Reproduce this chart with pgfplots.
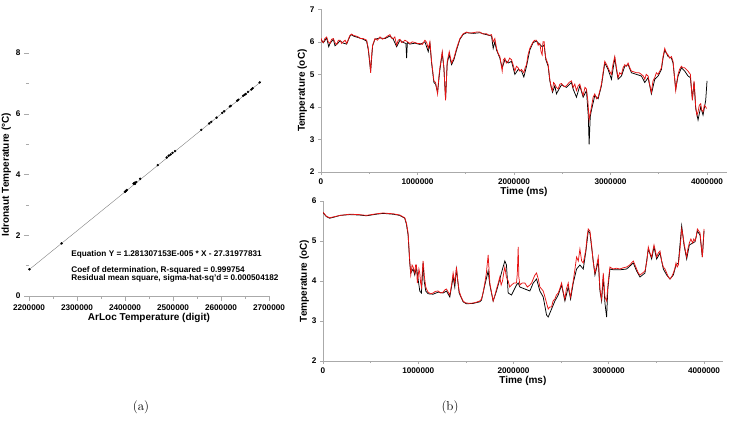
\documentclass[border=0pt]{standalone}
\usepackage{pgfplots}
\pgfplotsset{compat=1.18}
\usepackage{fontspec}
\setmainfont{Liberation Sans}
\newfontfamily\lmfont{Latin Modern Roman}
\definecolor{axgray}{RGB}{170,170,170}
\definecolor{myred}{RGB}{230,20,20}
\pgfplotsset{
  common/.style={
    scale only axis,
    axis x line*=bottom, axis y line*=left,
    axis line style={axgray, line width=0.8pt},
    tick style={axgray, line width=0.6pt},
    tick align=outside,
    major tick length=3pt, minor tick length=2pt,
    tick label style={font=\fontsize{8.2}{9}\selectfont\bfseries, text=black},
    label style={font=\fontsize{10}{11}\selectfont\bfseries},
    scaled ticks=false,
  }
}
\begin{document}
\begin{tikzpicture}
\path[use as bounding box] (0pt,0pt) rectangle (731pt,423pt);
% ---------------- (a) ----------------
\begin{axis}[common,
  at={(29pt,127pt)}, anchor=south west,
  width=240pt, height=243pt,
  xmin=2200000, xmax=2700000, ymin=0, ymax=8,
  xtick={2200000,2300000,2400000,2500000,2600000,2700000},
  xticklabels={2200000,2300000,2400000,2500000,2600000,2700000},
  minor xtick={2250000,2350000,2450000,2550000,2650000},
  ytick={0,2,4,6,8}, yticklabels={0,2,4,6,8},
  minor ytick={1,3,5,7},
  major tick length=5pt, minor tick length=3pt,
  tick style={axgray, line width=0.5pt},
  y axis line style={draw=none},
  xlabel={ArLoc Temperature (digit)},
  ylabel={Idronaut Temperature (°C)},
  xlabel style={yshift=4pt},
  ylabel style={yshift=-2pt},
  clip=false,
]
\addplot[gray, line width=0.4pt] coordinates {(2200500,0.87) (2683500,7.06)};
\addplot[only marks, mark=*, mark size=1pt, black] coordinates {
(2201000,0.88) (2267800,1.73) (2399900,3.43) (2401500,3.45) (2402600,3.47)
(2404000,3.49) (2417900,3.70) (2419500,3.72) (2421000,3.73) (2423400,3.75)
(2420500,3.69) (2431700,3.86) (2468300,4.31) (2487000,4.56) (2491000,4.62)
(2495000,4.66) (2499000,4.71) (2504300,4.77) (2558900,5.47) (2575500,5.68)
(2579700,5.73) (2590700,5.87) (2602500,6.03) (2606600,6.08) (2618400,6.24)
(2620500,6.26) (2633600,6.43) (2636000,6.46) (2646100,6.59) (2649000,6.62)
(2651500,6.65) (2656400,6.72) (2663400,6.80) (2666000,6.84) (2680600,7.03)
};
\node[anchor=west, font=\fontsize{8.2}{9}\selectfont\bfseries] at (axis cs:2281000,1.38) {Equation Y = 1.281307153E-005 * X - 27.31977831};
\node[anchor=west, font=\fontsize{8.2}{9}\selectfont\bfseries] at (axis cs:2281000,0.84) {Coef of determination, R-squared = 0.999754};
\node[anchor=west, font=\fontsize{8.2}{9}\selectfont\bfseries] at (axis cs:2281000,0.58) {Residual mean square, sigma-hat-sq'd = 0.000504182};
\end{axis}
% ---------------- (b) top ----------------
\begin{axis}[common,
  at={(321pt,251pt)}, anchor=south west,
  width=406pt, height=162.7pt,
  xmin=0, xmax=4207000, ymin=2, ymax=7,
  xtick={0,1000000,2000000,3000000,4000000},
  xticklabels={0,1000000,2000000,3000000,4000000},
  minor xtick={500000,1500000,2500000,3500000},
  ytick={2,3,4,5,6,7}, yticklabels={2,3,4,5,6,7},
  xlabel={Time (ms)}, ylabel={Temperature (oC)},
  xlabel style={yshift=4pt},
  ylabel style={yshift=-4pt},
]
\addplot[black, line width=0.75pt] coordinates {
(0,6.08) (24000,5.97) (58700,6.12) (80000,5.85) (93200,5.95) (127700,6.08) (145000,5.88) (162200,5.92)
(196700,6.03) (231200,5.96) (265700,5.93) (300300,6.18) (317500,6.22) (334800,6.18)
(386500,6.13) (438300,6.08) (472800,6.02) (490100,5.75) (514200,5.1) (535000,5.88)
(559100,6.08) (610900,6.12) (662600,6.1) (714400,6.18) (748900,6.08) (783400,5.85)
(818000,6.05) (852500,5.98) (880000,5.95) (887000,5.5) (895000,5.98) (921500,5.93) (973300,5.96)
(1025000,5.92) (1076800,6.0) (1111300,5.7) (1128600,5.95) (1145800,5.35) (1170000,4.75)
(1187200,4.7) (1208000,4.45) (1232100,5.15) (1256300,5.65) (1273500,5.2) (1290800,4.25)
(1308000,5.35) (1328800,5.6) (1352900,5.3) (1377100,5.45) (1404700,5.75) (1439200,6.08)
(1473700,6.23) (1508200,6.28) (1577200,6.26) (1646300,6.28) (1715300,6.22) (1767000,6.18)
(1784300,5.8) (1801600,6.0) (1818800,5.75) (1853300,5.5) (1877500,5.2) (1905100,5.45)
(1939600,5.35) (1974200,5.4) (2008700,5.0) (2043200,5.15) (2077700,5.1) (2101800,4.92)
(2129500,5.25) (2164000,5.75) (2198500,5.98) (2233000,6.02) (2267500,5.92) (2291700,5.85)
(2312400,5.9) (2329600,5.45) (2353800,5.25) (2371000,4.8) (2398700,4.45) (2422800,4.65)
(2440000,4.4) (2457300,4.5) (2491900,4.68) (2543600,4.6) (2595400,4.75) (2612600,4.55)
(2647200,4.3) (2681700,4.65) (2716200,4.3) (2750700,4.5) (2770000,3.7) (2778300,2.85)
(2790000,3.7) (2802400,3.9) (2837000,4.35) (2871500,4.25) (2906000,4.65) (2940500,5.35)
(2975000,5.15) (3009500,4.85) (3044000,5.5) (3061300,5.15) (3078600,4.85) (3113100,4.95)
(3147600,5.25) (3182100,5.3) (3216600,5.05) (3268400,5.0) (3320100,4.95) (3354700,4.75)
(3389200,4.9) (3423700,4.4) (3458200,4.85) (3492700,4.95) (3527200,5.15) (3544500,5.5)
(3561700,5.75) (3596300,5.55) (3630800,5.5) (3648000,5.35) (3675700,4.55) (3699800,4.95)
(3734300,5.2) (3768800,5.1) (3803300,4.95) (3827500,4.9) (3848200,4.25) (3865500,4.75)
(3882700,3.95) (3906900,3.6) (3934500,4.0) (3958700,3.75) (3986300,4.2) (4000000,4.8)
};
\addplot[myred, line width=0.75pt] coordinates {
(0,6.11) (12000,6.0) (24000,5.98) (40000,6.1) (58700,6.15) (75000,6.0) (93200,5.95) (110000,6.08) (127700,6.1)
(145000,5.98) (162200,5.92) (180000,6.05) (196700,6.05) (215000,5.95) (231200,6.0) (250000,6.05) (265700,5.95) (300300,6.2)
(317500,6.24) (334800,6.2) (360000,6.18) (386500,6.15) (410000,6.1) (438300,6.1) (472800,6.05)
(490100,5.8) (505000,5.4) (514200,5.05) (525000,5.6) (535000,5.9) (559100,6.1) (585000,6.05) (610900,6.15)
(635000,6.08) (662600,6.12) (690000,6.18) (714400,6.22) (730000,6.12) (748900,6.1) (765000,6.15) (783400,5.9)
(800000,6.05) (818000,6.08) (835000,5.98) (852500,6.0) (870000,6.05) (887000,6.02) (921500,5.95) (945000,6.0)
(973300,5.98) (1000000,5.95) (1025000,5.95) (1050000,5.92) (1076800,6.05) (1095000,5.98) (1111300,5.8)
(1128600,6.0) (1145800,5.4) (1170000,4.8) (1187200,4.75) (1208000,4.4) (1220000,4.9)
(1232100,5.2) (1256300,5.7) (1273500,5.2) (1290800,4.2) (1308000,5.4) (1328800,5.7)
(1352900,5.35) (1377100,5.5) (1404700,5.8) (1439200,6.1) (1473700,6.25) (1508200,6.3)
(1540000,6.27) (1577200,6.28) (1610000,6.3) (1646300,6.3) (1680000,6.24) (1715300,6.25) (1740000,6.2) (1767000,6.22)
(1784300,6.0) (1801600,6.1) (1818800,5.8) (1835000,5.65) (1853300,5.55) (1877500,5.1) (1890000,5.45) (1905100,5.5)
(1920000,5.35) (1939600,5.4) (1955000,5.5) (1974200,5.45) (1990000,5.3) (2008700,5.1) (2025000,5.25) (2043200,5.2)
(2060000,5.1) (2077700,5.15) (2101800,5.05) (2115000,5.2) (2129500,5.3) (2145000,5.6) (2164000,5.8)
(2180000,5.9) (2198500,6.0) (2215000,6.05) (2233000,6.05) (2250000,5.9) (2267500,5.95) (2280000,5.7) (2291700,5.6)
(2300000,6.0) (2312400,6.0) (2320000,5.7) (2329600,5.5) (2353800,5.3) (2371000,4.85) (2385000,4.6) (2398700,4.5)
(2410000,4.75) (2422800,4.7) (2440000,4.6) (2457300,4.55) (2475000,4.7) (2491900,4.72) (2520000,4.62) (2543600,4.65)
(2570000,4.75) (2595400,4.8) (2612600,4.6) (2630000,4.7) (2647200,4.5) (2665000,4.65) (2681700,4.7) (2700000,4.5) (2716200,4.35)
(2735000,4.6) (2750700,4.55) (2765000,4.2) (2778300,3.6) (2790000,3.8) (2802400,4.0) (2820000,4.3) (2837000,4.4)
(2855000,4.25) (2871500,4.3) (2890000,4.5) (2906000,4.7) (2920000,5.0) (2940500,5.4) (2960000,5.3) (2975000,5.2) (2990000,5.1)
(3009500,5.0) (3025000,5.3) (3044000,5.55) (3061300,5.2) (3078600,4.9) (3095000,5.05) (3113100,5.0)
(3130000,5.2) (3147600,5.3) (3165000,5.25) (3182100,5.35) (3200000,5.2) (3216600,5.1) (3240000,5.08) (3268400,5.05) (3295000,5.05)
(3320100,5.0) (3340000,4.95) (3354700,4.85) (3370000,5.0) (3389200,4.95) (3405000,4.7) (3423700,4.45) (3440000,4.8) (3458200,4.9)
(3475000,5.05) (3492700,5.0) (3510000,5.1) (3527200,5.2) (3544500,5.55) (3561700,5.8) (3580000,5.65) (3596300,5.6) (3613000,5.5)
(3630800,5.55) (3648000,5.4) (3660000,5.0) (3675700,4.5) (3688000,4.8) (3699800,5.0) (3715000,5.15) (3734300,5.25) (3750000,5.2)
(3768800,5.2) (3785000,5.15) (3803300,5.1) (3815000,5.05) (3827500,5.0) (3838000,4.6) (3848200,4.2) (3865500,4.8)
(3875000,4.4) (3882700,4.0) (3895000,3.75) (3906900,3.85) (3920000,4.05) (3934500,4.1) (3945000,3.9)
(3958700,3.85) (3972000,4.05) (3986300,4.0) (3995000,3.95)
};
\end{axis}
% ---------------- (b) bottom ----------------
\begin{axis}[common,
  at={(323pt,62pt)}, anchor=south west,
  width=399.7pt, height=160pt,
  xmin=0, xmax=4196000, ymin=2, ymax=6,
  xtick={0,1000000,2000000,3000000,4000000},
  xticklabels={0,1000000,2000000,3000000,4000000},
  minor xtick={500000,1500000,2500000,3500000},
  ytick={2,3,4,5,6}, yticklabels={2,3,4,5,6},
  xlabel={Time (ms)}, ylabel={Temperature (oC)},
  xlabel style={yshift=4pt},
  ylabel style={yshift=-4pt},
]
\addplot[black, line width=0.75pt] coordinates {
(0,5.71) (35000,5.61) (70000,5.57) (105000,5.59) (180000,5.64) (280000,5.66) (380000,5.65)
(455000,5.63) (560000,5.67) (630000,5.69) (735600,5.67) (805600,5.64) (858100,5.57)
(875700,5.42) (893200,5.15) (910700,4.45) (921200,4.2) (945700,4.3) (963200,4.15)
(980700,4.35) (998200,4.05) (1015800,3.75) (1033300,3.7) (1050800,4.45) (1062000,4.0) (1078800,3.75)
(1103300,3.68) (1155900,3.67) (1208400,3.72) (1260900,3.7) (1296000,3.75) (1331000,3.6)
(1366000,4.1) (1383500,3.85) (1401000,4.3) (1429100,3.7) (1471100,3.48) (1506100,3.43)
(1576200,3.44) (1646200,3.48) (1663700,3.52) (1698800,3.9) (1733800,4.25) (1751300,3.9)
(1786300,3.5) (1821400,3.75) (1856400,4.05) (1884400,4.3) (1908900,4.5) (1926000,4.4) (1943900,3.7)
(1979000,3.65) (2031500,3.9) (2049100,3.95) (2066500,3.85) (2119100,3.8) (2171600,3.75)
(2206600,3.95) (2241700,4.05) (2276700,3.75) (2311700,3.6) (2346700,3.15) (2364300,3.1)
(2399300,3.3) (2434300,3.5) (2469300,3.65) (2504400,3.9) (2539400,3.5) (2574400,3.85)
(2599000,3.55) (2627000,3.95) (2662000,4.3) (2697000,4.4) (2732000,4.3) (2760100,4.75)
(2784600,5.25) (2802100,5.2) (2819600,4.85) (2854600,4.15) (2889600,4.5) (2907200,3.75)
(2924700,3.5) (2942200,4.1) (2959700,3.45) (2977200,3.1) (2990000,3.8) (3012300,4.3) (3047300,4.28)
(3117300,4.28) (3187400,4.3) (3257400,4.45) (3292400,4.25) (3327500,4.1) (3380000,4.2)
(3415000,4.8) (3450100,4.55) (3474600,4.85) (3502600,4.55) (3537600,4.7) (3572700,4.3)
(3607700,4.15) (3642700,4.05) (3677700,4.15) (3705800,4.4) (3730300,4.45) (3765300,5.38)
(3789800,4.9) (3817800,4.55) (3845800,4.9) (3880900,4.95) (3905400,4.98) (3929900,5.25)
(3957900,5.15) (3982400,4.6) (4000000,5.25)
};
\addplot[myred, line width=0.75pt] coordinates {
(0,5.72) (35000,5.62) (70000,5.58) (105000,5.6) (180000,5.64) (280000,5.67) (380000,5.66)
(455000,5.64) (560000,5.68) (630000,5.7) (735600,5.68) (805600,5.65) (858100,5.58)
(875700,5.45) (893200,5.2) (910700,4.5) (921200,4.15) (935000,4.4) (945700,4.35) (963200,4.2)
(972000,4.4) (980700,4.4) (990000,3.95) (998200,4.1) (1007000,4.3) (1015800,4.2) (1025000,3.95) (1033300,3.85) (1042000,4.2) (1050800,4.5)
(1065000,4.1) (1078800,3.85) (1090000,3.78) (1103300,3.72) (1130000,3.68) (1155900,3.7) (1180000,3.74) (1208400,3.75) (1235000,3.7)
(1260900,3.72) (1280000,3.78) (1296000,3.8) (1315000,3.72) (1331000,3.65) (1350000,3.9) (1366000,4.2) (1383500,3.95)
(1401000,4.35) (1415000,4.0) (1429100,3.75) (1450000,3.6) (1471100,3.5) (1490000,3.46) (1506100,3.45) (1540000,3.44)
(1576200,3.45) (1610000,3.47) (1646200,3.5) (1663700,3.55) (1680000,3.7) (1698800,3.95) (1715000,4.2) (1733800,4.65)
(1751300,3.95) (1770000,3.7) (1786300,3.5) (1805000,3.65) (1821400,3.8) (1840000,3.95) (1856400,4.1) (1870000,3.9) (1884400,4.0)
(1897000,4.2) (1908900,4.35) (1925000,4.1) (1943900,4.0) (1960000,3.85) (1979000,3.9) (2005000,3.95) (2031500,3.95) (2040000,4.2) (2049100,4.85)
(2056000,4.1) (2066500,3.9) (2090000,3.95) (2119100,3.95) (2145000,3.85) (2171600,3.9) (2190000,3.95) (2206600,4.05) (2225000,4.15) (2241700,4.2)
(2260000,4.05) (2276700,3.85) (2295000,3.8) (2311700,3.75) (2330000,3.6) (2346700,3.45) (2364300,3.3) (2380000,3.35) (2399300,3.35)
(2415000,3.5) (2434300,3.55) (2450000,3.65) (2469300,3.7) (2485000,3.8) (2504400,3.95) (2520000,3.75) (2539400,3.55) (2555000,3.8) (2574400,3.95)
(2585000,3.75) (2599000,3.6) (2612000,3.8) (2627000,4.0) (2645000,4.3) (2662000,4.6) (2680000,4.5) (2697000,4.8) (2715000,4.5) (2732000,4.45)
(2745000,4.6) (2760100,4.8) (2772000,5.1) (2784600,5.3) (2802100,5.25) (2819600,4.9) (2835000,4.5) (2854600,4.2)
(2870000,4.35) (2889600,4.6) (2907200,3.8) (2924700,3.55) (2942200,4.2) (2959700,3.6) (2977200,3.5)
(2995000,4.0) (3012300,4.35) (3030000,4.32) (3047300,4.3) (3080000,4.32) (3117300,4.3) (3150000,4.33) (3187400,4.35) (3220000,4.4) (3257400,4.5)
(3275000,4.4) (3292400,4.3) (3310000,4.2) (3327500,4.15) (3355000,4.2) (3380000,4.25) (3400000,4.5) (3415000,4.85) (3432000,4.7) (3450100,4.6)
(3462000,4.75) (3474600,4.9) (3490000,4.75) (3502600,4.6) (3520000,4.7) (3537600,4.75) (3555000,4.5) (3572700,4.35) (3590000,4.3)
(3607700,4.2) (3625000,4.1) (3642700,4.05) (3660000,4.1) (3677700,4.2) (3692000,4.3) (3705800,4.45) (3718000,4.35) (3730300,4.4)
(3748000,4.8) (3765300,5.3) (3778000,5.15) (3789800,4.95) (3805000,4.75) (3817800,4.6) (3830000,4.8) (3845800,4.95)
(3862000,5.05) (3880900,4.95) (3892000,5.05) (3905400,5.0) (3918000,5.1) (3929900,5.3) (3945000,5.25) (3957900,5.2)
(3970000,4.9) (3982400,4.6) (3992000,5.0) (4000000,5.3)
};
\end{axis}
% ---------------- panel labels ----------------
\node[font=\lmfont\fontsize{13}{14}\selectfont] at (141pt,16pt) {(a)};
\node[font=\lmfont\fontsize{13}{14}\selectfont] at (450pt,16pt) {(b)};
\end{tikzpicture}
\end{document}
